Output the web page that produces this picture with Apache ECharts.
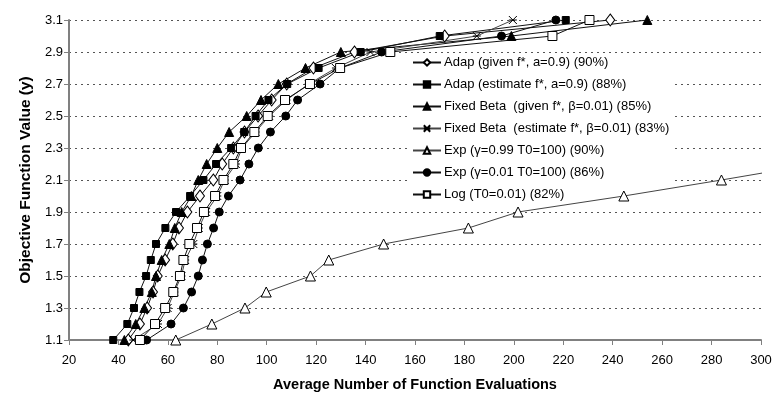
<!DOCTYPE html>
<html>
<head>
<meta charset="utf-8">
<script src="https://cdn.jsdelivr.net/npm/echarts@6/dist/echarts.min.js"></script>
<style>
  html, body { margin: 0; padding: 0; background: #fff; }
  #chart { width: 777px; height: 407px; }
</style>
</head>
<body>
<div id="chart"></div>
<script>
// objective value levels reached by each run (y)
const yLevels = [1.1, 1.2, 1.3, 1.4, 1.5, 1.6, 1.7, 1.8, 1.9, 2.0, 2.1, 2.2, 2.3, 2.4, 2.5, 2.6, 2.7, 2.8, 2.9, 3.0, 3.1];
const yLevelsExpSlow = [1.1, 1.2, 1.3, 1.4, 1.5, 1.6, 1.7, 1.8, 1.9, 2.0, 2.1, 2.2];

// average number of function evaluations at each level (x)
const adapGiven    = [44, 48.7, 51.6, 54, 55.9, 58.9, 62, 64.5, 67.9, 73, 78.4, 82, 86.5, 91, 96.5, 102, 108.1, 118.9, 135.5, 172, 239];
const adapEstimate = [37.9, 43.6, 46.3, 48.5, 51.2, 53.1, 55.2, 59, 63.3, 69, 74.4, 79.5, 85.6, 90.9, 95.5, 100.7, 108.3, 121, 138, 170, 221];
const fixedGiven   = [42.4, 47, 50.5, 53.5, 55.2, 57.5, 60.6, 62.8, 65.6, 69.5, 72.3, 75.7, 80, 84.8, 91.9, 97.7, 104.7, 115.7, 130, 199, 254];
const fixedEst     = [46, 56, 59.9, 62.6, 65.5, 67, 70.3, 72.5, 75.5, 80, 83, 87.5, 90, 95.5, 101, 108, 117, 128, 142, 185, 199.6];
const expSlow      = [63.2, 77.8, 91.2, 99.8, 117.7, 125.1, 147.3, 181.6, 201.7, 244.5, 284, 322];
const expFast      = [51.4, 61.3, 66.3, 69.6, 72.3, 74, 76, 78.5, 80.8, 84.5, 89.2, 92.8, 96.6, 101.5, 107.7, 112.5, 121.6, 129.7, 146.5, 195, 217];
const logSched     = [48.7, 54.8, 58.9, 62.2, 64.9, 66.3, 68.7, 71.8, 74.6, 79.1, 82.5, 86.5, 89.6, 95, 100.4, 107.4, 117.5, 129.7, 150, 215.6, 230.6];

const names = [
  'Adap (given f*, a=0.9) (90%)',
  'Adap (estimate f*, a=0.9) (88%)',
  'Fixed Beta  (given f*, β=0.01) (85%)',
  'Fixed Beta  (estimate f*, β=0.01) (83%)',
  'Exp (γ=0.99 T0=100) (90%)',
  'Exp (γ=0.01 T0=100) (86%)',
  'Log (T0=0.01) (82%)'
];

const crossIcon = 'path://M0,0L10,10M10,0L0,10M0,5L10,5';

function pairs(xs, ys) {
  return xs.map((x, i) => [x, ys[i]]);
}

function makeSeries(name, xs, ys, symbol, size, filled, lineColor) {
  return {
    name: name,
    type: 'line',
    data: pairs(xs, ys),
    symbol: symbol,
    symbolSize: size,
    showAllSymbol: true,
    clip: true,
    z: 3,
    lineStyle: { color: lineColor || '#111', width: 1 },
    itemStyle: {
      color: filled ? '#000' : '#fff',
      borderColor: '#000',
      borderWidth: 1
    },
    emphasis: { disabled: true },
    animation: false
  };
}

const chart = echarts.init(document.getElementById('chart'));

chart.setOption({
  backgroundColor: '#fff',
  textStyle: { fontFamily: 'Liberation Sans, Arial, sans-serif' },
  grid: { left: 69, right: 16, top: 20, bottom: 67 },
  legend: {
    orient: 'vertical',
    left: 410,
    top: 56,
    z: 1,
    itemWidth: 28,
    itemHeight: 8,
    itemGap: 9,
    backgroundColor: '#fff',
    padding: [0, 4, 2, 2],
    textStyle: { fontSize: 13, color: '#000', padding: [0, 0, 0, -2] },
    data: names
  },
  xAxis: {
    type: 'value',
    min: 20,
    max: 300,
    interval: 20,
    name: 'Average Number of Function Evaluations',
    nameLocation: 'middle',
    nameGap: 37,
    nameTextStyle: { fontSize: 14.5, fontWeight: 'bold', color: '#000' },
    axisLine: { show: true, lineStyle: { color: '#808080', width: 2 } },
    axisTick: { show: true, length: 5, lineStyle: { color: '#808080' } },
    axisLabel: { fontSize: 13, color: '#000', margin: 14 },
    splitLine: { show: false }
  },
  yAxis: {
    type: 'value',
    min: 1.1,
    max: 3.1,
    interval: 0.2,
    name: 'Objective Function Value (y)',
    nameLocation: 'middle',
    nameGap: 33,
    nameTextStyle: { fontSize: 15.5, fontWeight: 'bold', color: '#000' },
    axisLine: { show: true, lineStyle: { color: '#808080', width: 2 } },
    axisTick: { show: true, length: 5, lineStyle: { color: '#808080' } },
    axisLabel: { fontSize: 13, color: '#000', margin: 6, formatter: v => v.toFixed(1) },
    splitLine: { show: true, lineStyle: { color: '#555', type: [2, 4], width: 1 } }
  },
  series: [
    makeSeries(names[0], adapGiven, yLevels, 'diamond', [9, 12], false),
    makeSeries(names[1], adapEstimate, yLevels, 'rect', 7, true),
    makeSeries(names[2], fixedGiven, yLevels, 'triangle', 9, true),
    makeSeries(names[3], fixedEst, yLevels, crossIcon, 8, false, '#444'),
    makeSeries(names[4], expSlow, yLevelsExpSlow, 'triangle', 10, false, '#444'),
    makeSeries(names[5], expFast, yLevels, 'circle', 8, true),
    makeSeries(names[6], logSched, yLevels, 'rect', 9, false)
  ]
});
</script>
</body>
</html>
